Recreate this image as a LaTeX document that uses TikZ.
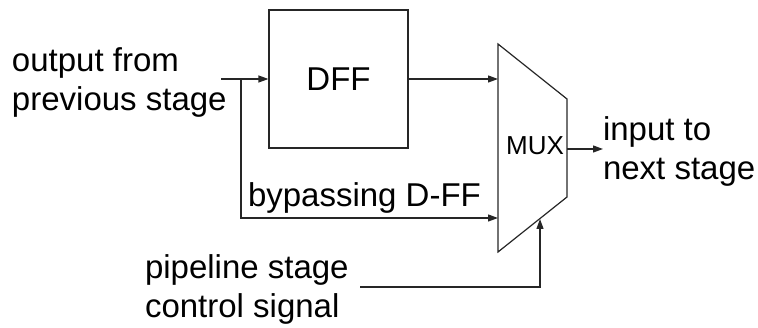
\documentclass[tikz,border=0pt]{standalone}
\usepackage{fontspec}
\setmainfont{Liberation Sans}
\usetikzlibrary{arrows.meta}
\begin{document}
\begin{tikzpicture}[x=1pt,y=-1pt,
  wire/.style={line width=1.2pt,draw=black!85},
  arr/.style={wire,-{Triangle[length=10pt,width=7pt]}},
  lbl/.style={inner sep=0pt,outer sep=0pt,font=\fontsize{33}{39}\selectfont,align=left,anchor=base west},
  block/.style={draw=black!85,line width=1.2pt,minimum width=139pt,minimum height=138pt,inner sep=0pt,font=\fontsize{33}{39}\selectfont}]
\useasboundingbox (0,0) rectangle (758,328);
% DFF block
\node[block] (dff) at (338.5,79) {DFF};
% MUX trapezoid
\coordinate (m1) at (498,44);
\coordinate (m2) at (567,99);
\coordinate (m3) at (567,197);
\coordinate (m4) at (498,252);
\draw[wire,line join=miter] (m1) -- (m2) -- (m3) -- (m4) -- cycle;
\node[inner sep=0pt,font=\fontsize{26}{30}\selectfont] (mux) at (535,146) {MUX};
\coordinate (muxA) at (498,79);
\coordinate (muxB) at (498,218);
\coordinate (muxS) at (540,219);
\coordinate (muxO) at (567,149);
% input
\coordinate (in) at (221,79);
\coordinate (br) at (241,79);
\draw[arr] (in) -- (dff.west);
\draw[arr] (dff.east) -- (muxA);
\draw[arr] (br) |- (muxB);
% output
\coordinate (out) at (603,149);
\draw[arr] (muxO) -- (out);
% control
\coordinate (ctl) at (360,287);
\draw[arr] (ctl) -| (muxS);
% labels
\node[lbl] (tin) at (12,111) {output from\\previous stage};
\node[lbl] (tout) at (603,180) {input to\\next stage};
\node[lbl] (tby) at (248,207) {bypassing D-FF};
\node[lbl] (tctl) at (145,318) {pipeline stage\\control signal};
\end{tikzpicture}
\end{document}
